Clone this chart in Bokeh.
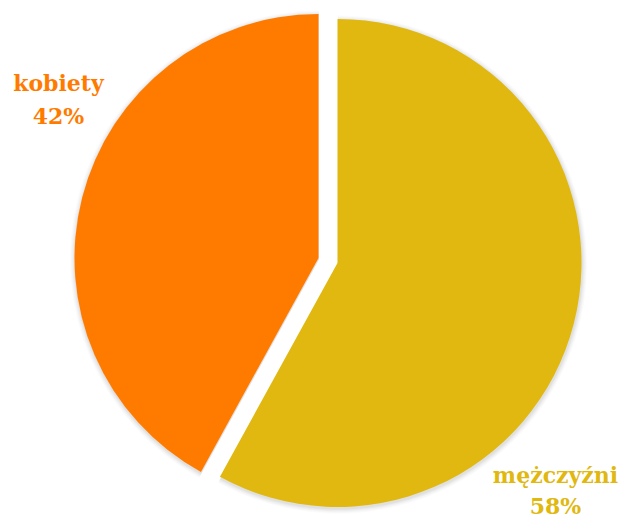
import math
from bokeh.plotting import figure
from bokeh.models import Range1d, ColumnDataSource
from bokeh.core.properties import value
from bokeh.embed import file_html
from bokeh.resources import INLINE

categories = ["mężczyźni", "kobiety"]
shares = [58, 42]
colors = ["#E0B80F", "#FF7B00"]
label_pos = [(555, 483, 514), (58, 91, 124)]  # page x, baseline1, baseline2

W, H = 619, 517
p = figure(width=W, height=H, output_backend="svg", toolbar_location=None,
           x_range=Range1d(0, W), y_range=Range1d(0, H),
           min_border=0)
p.axis.visible = False
p.grid.visible = False
p.outline_line_color = None
p.background_fill_color = "white"

cx, cy = 327.5, 517 - 260
R = 244
explode = 9.8
total = sum(shares)
text_shift = 9

start = 90.0
wedges = []
for cat, v, col in zip(categories, shares, colors):
    sweep = 360.0 * v / total
    end = start
    st = start - sweep
    mid = math.radians((st + end) / 2)
    ox = cx + explode * math.cos(mid)
    oy = cy + explode * math.sin(mid)
    wedges.append((ox, oy, st, end, col))
    start = st

# soft shadow
for k, a in [(5, 0.03), (4, 0.04), (3, 0.05), (2, 0.06), (1, 0.08)]:
    for ox, oy, st, end, col in wedges:
        p.wedge(x=ox + 0.5, y=oy - 1.5, radius=R + k, start_angle=math.radians(st),
                end_angle=math.radians(end), fill_color="#808080", fill_alpha=a,
                line_color=None)

for ox, oy, st, end, col in wedges:
    p.wedge(x=ox, y=oy, radius=R, start_angle=math.radians(st),
            end_angle=math.radians(end), fill_color=col, line_color=None)

for cat, v, col, (lx, b1, b2) in zip(categories, shares, colors, label_pos):
    src = ColumnDataSource(dict(x=[lx, lx],
                                y=[517 - b1 + text_shift, 517 - b2 + text_shift],
                                t=[cat, f"{v}%"]))
    p.text(x="x", y="y", text="t", source=src, text_align="center",
           text_baseline="alphabetic", text_color=col,
           text_font=value("DejaVu Serif"), text_font_style="bold",
           text_font_size="22px")

open("out.html", "w").write(file_html(p, INLINE))
